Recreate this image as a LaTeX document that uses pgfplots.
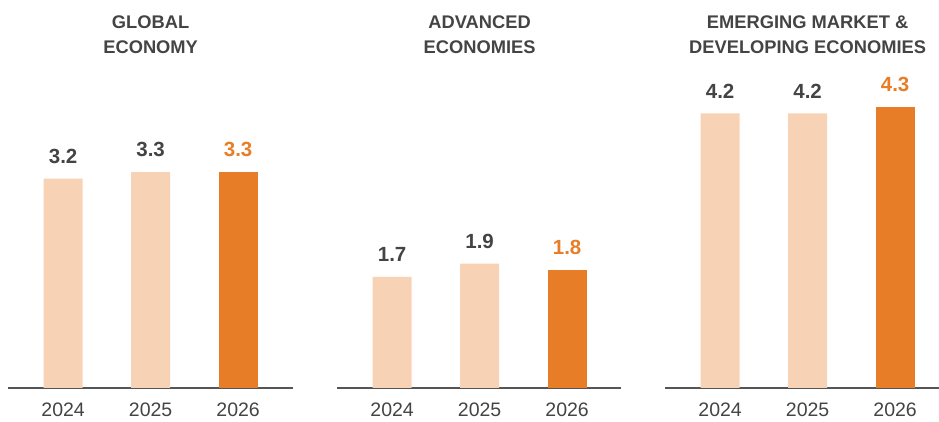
\documentclass[border=0pt]{standalone}
\usepackage{pgfplots}
\pgfplotsset{compat=1.18}
\usepackage{fontspec}
\setmainfont{Liberation Sans}
\definecolor{lightbar}{HTML}{F8D2B4}
\definecolor{darkbar}{HTML}{E87D27}
\definecolor{txt}{HTML}{444444}
\definecolor{axl}{HTML}{555555}

\pgfplotsset{
 panel/.style={
  scale only axis, x=87.5pt, y=65.4pt, ymin=0, ymax=4.5, xmin=-0.63,
  axis x line=bottom, axis y line=none,
  x axis line style={-, draw=axl, line width=1.3pt},
  xtick={0,1,2}, xticklabels={2024,2025,2026}, major tick length=0pt,
  xticklabel style={font=\fontsize{19.5}{20}\selectfont, text=txt, anchor=north, inner sep=0pt, yshift=-15pt},
  ytick=\empty, clip=false,
  anchor=south west,
 },
 lb/.style={ybar, fill=lightbar, draw=none, bar width=39pt, bar shift=0pt,
  nodes near coords, point meta=explicit symbolic,
  every node near coord/.style={anchor=south, inner sep=0pt, yshift=15pt, text=txt, font=\bfseries\fontsize{20.5}{21}\selectfont}},
 db/.style={ybar, fill=darkbar, draw=none, bar width=39pt, bar shift=0pt,
  nodes near coords, point meta=explicit symbolic,
  every node near coord/.style={anchor=south, inner sep=0pt, yshift=15pt, text=darkbar, font=\bfseries\fontsize{20.5}{21}\selectfont}},
}
\tikzset{ttl/.style={anchor=base, inner sep=0pt, text=txt, font=\bfseries\fontsize{18.3}{20}\selectfont}}

\begin{document}
\begin{tikzpicture}
\useasboundingbox (0,0) rectangle (939pt,422pt);

\begin{axis}[panel, at={(8pt,34pt)}, xmax=2.63]
\addplot[lb] coordinates {(0,3.2) [3.2] (1,3.3) [3.3]};
\addplot[db] coordinates {(2,3.3) [3.3]};
\node[ttl] at (axis cs:1,5.49) {GLOBAL};
\node[ttl] at (axis cs:1,5.12) {ECONOMY};
\end{axis}

\begin{axis}[panel, at={(337pt,34pt)}, xmax=2.62]
\addplot[lb] coordinates {(0,1.7) [1.7] (1,1.9) [1.9]};
\addplot[db] coordinates {(2,1.8) [1.8]};
\node[ttl] at (axis cs:1,5.49) {ADVANCED};
\node[ttl] at (axis cs:1,5.12) {ECONOMIES};
\end{axis}

\begin{axis}[panel, at={(665pt,34pt)}, xmax=2.50]
\addplot[lb] coordinates {(0,4.2) [4.2] (1,4.2) [4.2]};
\addplot[db] coordinates {(2,4.3) [4.3]};
\node[ttl] at (axis cs:1,5.49) {EMERGING MARKET \&};
\node[ttl] at (axis cs:1,5.12) {DEVELOPING ECONOMIES};
\end{axis}
\end{tikzpicture}
\end{document}
